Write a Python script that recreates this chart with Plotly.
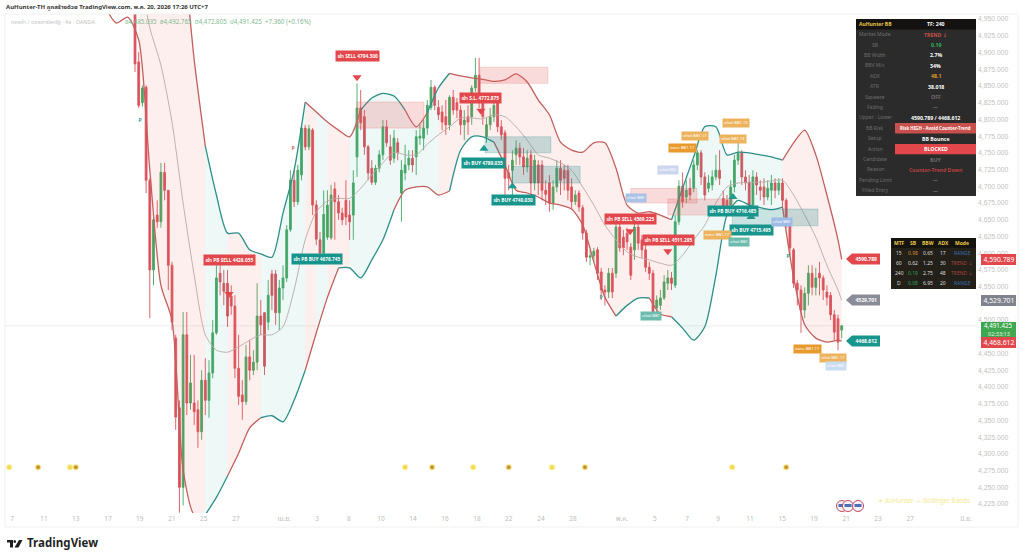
import plotly.graph_objects as go

W, H = 1024, 559
THAI = "Noto Sans Thai, Noto Sans, DejaVu Sans, Liberation Sans"

# candles, XAUUSD 4h
open_ = [4964,4886,4825,4848,4709,4575,4657,4647,4721,4694,4582,4473,4369,4250,4478,4376,4376,4366,4333,4410,
    4380,4421,4481,4570,4555,4555,4536,4521,4428,4388,4378,4445,4425,4437,4506,4511,4497,4569,4569,4511,
    4548,4563,4635,4709,4677,4717,4787,4759,4784,4672,4620,4600,4624,4623,4696,4677,4660,4679,4657,4657,
    4744,4817,4804,4759,4727,4706,4727,4747,4789,4759,4742,4765,4690,4720,4732,4742,4744,4772,4772,4787,
    4818,4848,4818,4811,4804,4792,4833,4825,4814,4792,4804,4804,4847,4866,4825,4774,4792,4804,4825,4789,
    4780,4720,4724,4747,4757,4744,4729,4747,4705,4732,4732,
    4694,4705,4675,4699,4727,4724,4724,4699,4677,4690,4668,4630,4594,4596,4605,4572,4545,4542,4570,4570,
    4639,4624,4630,4609,4605,4639,4620,4605,4579,4570,4518,4522,4533,4555,4563,4552,4647,4700,4684,4697,
    4697,4732,4750,4714,4697,4702,4714,4724,4682,4679,4672,4699,4739,4750,4714,4706,4672,4714,4699,4699,
    4684,4694,4705,4694,4705,4679,4645,4605,4555,4545,4515,4540,4570,4549,4570,4563,4542,4537,4508,4502,4485.035]
high = [4971,4901,4851,4851,4712,4657,4679,4735,4735,4694,4587,4478,4380,4512,4512,4448,4448,4380,4425,4443,
    4440,4500,4582,4590,4575,4575,4552,4537,4478,4410,4463,4470,4455,4555,4530,4512,4560,4575,4575,4560,
    4582,4642,4724,4724,4732,4792,4792,4792,4787,4679,4632,4694,4694,4702,4706,4687,4668,4709,4679,4724,
    4854,4844,4814,4762,4739,4732,4754,4799,4799,4777,4784,4772,4739,4762,4754,4754,4784,4792,4799,4829,
    4859,4851,4829,4821,4829,4836,4844,4832,4821,4814,4821,4851,4892,4892,4829,4802,4817,4829,4829,4799,
    4784,4732,4754,4769,4765,4757,4754,4754,4747,4739,4739,
    4709,4717,4709,4739,4739,4732,4732,4712,4694,4694,4672,4635,4605,4608,4609,4578,4552,4578,4578,4647,
    4647,4635,4638,4615,4647,4647,4627,4615,4587,4575,4537,4545,4567,4575,4572,4657,4709,4721,4709,4712,
    4739,4754,4754,4721,4717,4724,4747,4754,4694,4687,4709,4747,4769,4754,4724,4717,4724,4721,4709,4712,
    4709,4717,4712,4712,4712,4682,4650,4608,4560,4552,4549,4582,4582,4578,4587,4567,4552,4542,4515,4508,4492.765]
low = [4871,4817,4819,4690,4503,4552,4638,4638,4679,4545,4485,4336,4212,4223,4358,4366,4343,4309,4321,4358,
    4354,4413,4478,4537,4522,4490,4508,4413,4373,4351,4373,4410,4418,4425,4478,4418,4485,4515,4493,4485,
    4530,4557,4632,4669,4672,4709,4754,4754,4657,4612,4587,4593,4620,4620,4620,4650,4642,4642,4620,4620,
    4714,4784,4747,4709,4702,4702,4721,4739,4759,4732,4735,4739,4647,4709,4724,4721,4717,4762,4754,4777,
    4814,4814,4799,4784,4777,4784,4807,4802,4777,4769,4777,4792,4841,4817,4792,4765,4784,4796,4781,4769,
    4687,4694,4687,4732,4732,4717,4721,4687,4694,4687,4679,
    4672,4662,4665,4691,4687,4694,4679,4665,4672,4662,4620,4587,4582,4587,4560,4530,4522,4533,4533,4563,
    4602,4597,4605,4560,4590,4605,4593,4572,4560,4503,4508,4515,4530,4545,4545,4548,4642,4668,4675,4679,
    4691,4724,4702,4679,4691,4694,4709,4702,4657,4657,4665,4691,4732,4702,4694,4662,4668,4687,4679,4672,
    4679,4672,4682,4687,4668,4638,4597,4548,4522,4481,4503,4522,4537,4537,4537,4530,4522,4500,4470,4455,4472.805]
close = [4883,4821,4847,4709,4575,4650,4647,4721,4694,4582,4497,4355,4250,4478,4376,4406,4363,4333,4410,4380,
    4421,4481,4563,4557,4543,4506,4521,4428,4386,4378,4445,4425,4437,4506,4493,4431,4537,4537,4511,4548,
    4563,4635,4709,4677,4724,4787,4759,4786,4672,4621,4600,4658,4672,4687,4677,4660,4650,4654,4647,4705,
    4817,4795,4759,4720,4706,4727,4747,4789,4765,4739,4772,4750,4724,4732,4742,4732,4774,4775,4787,4821,
    4848,4821,4807,4796,4792,4833,4814,4814,4792,4799,4796,4847,4866,4825,4804,4792,4804,4821,4789,4777,
    4712,4712,4739,4757,4744,4729,4742,4705,4739,4705,4694,
    4688,4675,4699,4727,4709,4712,4694,4677,4687,4669,4630,4594,4596,4603,4570,4545,4542,4570,4542,4639,
    4608,4608,4617,4567,4639,4615,4605,4579,4570,4511,4530,4533,4557,4563,4555,4647,4700,4677,4694,4687,
    4732,4750,4714,4687,4705,4714,4724,4712,4669,4668,4699,4739,4750,4714,4705,4672,4714,4702,4694,4684,
    4697,4705,4694,4705,4679,4645,4608,4555,4545,4515,4540,4570,4549,4563,4563,4545,4534,4508,4482,4467,4491.425]

# bollinger bands, read every 3 bars
band_bars = [-8,-5,-2,1,4,7,10,13,16,19,22,25,28,31,34,37,40,43,46,49,52,55,58,61,64,67,70,73,76,79,82,85,88,91,
    94,97,100,103,106,109,112,115,118,121,124,127,130,133,136,139,142,145,148,151,154,157,160,163,166,169,172,175,
    178,181,184,187,190,191]
upper = [5248,5248,5240,5233,5218,5203,5158,5053,4889,4760,4687,4630,4630,4605,4599,4594,4660,4724,4826,4811,
    4796,4784,4774,4814,4832,4839,4835,4814,4789,4810,4847,4869,4865,4862,4860,4857,4859,4868,4856,4829,
    4807,4766,4754,4751,4765,4765,4727,4672,4660,4662,4657,4650,4697,4744,4789,4789,4747,4751,4750,4747,
    4744,4739,4765,4784,4747,4687,4620,4590.789]
middle = [5120,5095,5060,5020,4937,4881,4796,4675,4567,4478,4455,4452,4460,4470,4478,4478,4490,4545,4620,4662,
    4678,4682,4682,4697,4717,4735,4751,4747,4747,4763,4777,4789,4802,4802,4801,4807,4804,4789,4769,4747,
    4742,4735,4724,4699,4672,4642,4620,4602,4594,4590,4585,4582,4597,4620,4642,4675,4699,4705,4706,4706,
    4708,4709,4687,4657,4624,4582,4545,4529.701]
lower = [4967,4944,4953,4919,4724,4552,4500,4276,4209,4209,4235,4267,4301,4339,4354,4357,4348,4380,4425,4481,
    4534,4578,4578,4563,4590,4620,4665,4694,4699,4699,4687,4693,4754,4774,4774,4766,4732,4694,4690,4684,
    4675,4672,4666,4642,4587,4534,4506,4522,4533,4533,4509,4505,4488,4470,4490,4567,4657,4679,4672,4668,
    4665,4669,4564,4493,4473,4467,4470,4468.612]

# which side the bands were on, (first bar, last bar, state)
fill_runs = [(1,19,"down"),(19,25,"up"),(25,34,"down"),(34,46,"up"),(46,49,"down"),(49,52,"up"),(52,58,"down"),
    (58,82,"up"),(82,145,"down"),(145,175,"up"),(175,191,"down")]
upper_runs = [(-8,19,"down"),(19,46,"up"),(46,61,"down"),(61,73,"up"),(73,79,"down"),(79,85,"up"),(85,145,"down"),
    (145,175,"up"),(175,191,"down")]
lower_runs = [(-8,19,"down"),(19,25,"up"),(25,34,"down"),(34,46,"up"),(46,55,"down"),(55,70,"up"),(70,85,"down"),
    (85,97,"up"),(97,130,"down"),(130,139,"up"),(139,145,"down"),(145,175,"up"),(175,191,"down")]

sell_bars = [25.4,60,93.5,133.8,144]
sell_prices = [4539,4863,4813,4633,4603]
buy_bars = [94.3,102,161.6,166.5]
buy_prices = [4756,4700,4684,4654]

dot_price = 4280
dots_yellow = [-34,-17.6,73,91.4,112.7,161.4]
dots_orange = [-26.2,-16,80.3,101,121.6,176]

tick_bars = [-33.2,-24.6,-16,-7.3,1.3,10,18.6,27.3,40.3,49.2,57.8,66.5,75.1,83.8,92.4,101,109.7,118.4,131.6,140.5,
    149.2,157.6,166.2,174.9,183.5,192.2,200.8,209.5,224.6]
tick_text = ["7","11","13","17","19","21","25","27","เม.ย.","3","8","10","14","16","18","22","24","28","พ.ค.","5",
    "7","9","11","15","19","21","23","27","มิ.ย."]
# 4,475 and 4,525 sit under the price tags
price_ticks = [4225,4250,4275,4300,4325,4350,4375,4400,4425,4450,4500,4550,4575,4600,4625,4650,4675,4700,4725,
    4750,4775,4800,4825,4850,4875,4900,4925,4950]

# (bar from, bar to, price top, price bottom, side)
zones = [(60,78.1,4826,4787,"sell"),(93.2,111.6,4878,4854,"sell"),(94.6,112.4,4774,4750,"buy"),(101.9,120.3,4730,4705,"buy"),
    (134,151.9,4697,4675,"sell"),(144,161.6,4681,4657,"sell"),(161.4,184.6,4666,4641,"buy")]

dash_names = ["AuHunter BB","Market Mode","SB","BB Width","BBV Mix","ADX","ATR","Squeeze","Fading","Upper · Lower","BB Risk",
    "Setup","Action","Candidate","Reason","Pending Limit","Filled Entry"]
dash_values = ["TF: 240","TREND ↓","0.19","2.7%","34%","48.1","38.018","OFF","—","4590.789 / 4468.612",
    "Risk HIGH - Avoid Counter-Trend","BB Bounce","BLOCKED","BUY","Counter-Trend Down","—","—"]
dash_colors = ["#ffffff","#c8504c","#2fb35a","#ffffff","#ffffff","#e39a2d","#ffffff","#6e6e6e","#6e6e6e","#ffffff","#ffffff",
    "#ffffff","#ffffff","#6e6e6e","#b5403f","#6e6e6e","#6e6e6e"]

mtf_rows = [["MTF","SB","BBW","ADX","Mode"],["15","0.98","0.65","17","RANGE"],["60","0.62","1.25","30","TREND ↓"],
    ["240","0.19","2.75","48","TREND ↓"],["D","0.08","6.95","20","RANGE"]]
mtf_colors = [["#e8c84a"]*5,["#dddddd","#d98a32","#dddddd","#dddddd","#3a6fb0"],["#dddddd","#dddddd","#dddddd","#dddddd","#a8403f"],
    ["#dddddd","#2fa355","#dddddd","#dddddd","#a8403f"],["#dddddd","#2fa355","#dddddd","#dddddd","#3a6fb0"]]


def px(x):
    return x / W


def py(y):
    return 1 - y / H


def bar_slice(a, b):
    return [i for i, v in enumerate(band_bars) if a <= v <= b]


assert len(open_) == len(high) == len(low) == len(close), (len(open_), len(high), len(low), len(close))
assert len(band_bars) == len(upper) == len(middle) == len(lower), (len(band_bars), len(upper), len(middle), len(lower))

RED_LINE = "#c2605e"
TEAL_LINE = "#2e8f89"
SMOOTH = dict(shape="spline", smoothing=0.7)

fig = go.Figure()

for a, b, state in fill_runs:
    idx = bar_slice(a, b)
    xs = [band_bars[i] for i in idx]
    fig.add_trace(go.Scatter(x=xs, y=[upper[i] for i in idx], mode="lines", line=dict(width=0, **SMOOTH), hoverinfo="skip"))
    fig.add_trace(go.Scatter(x=xs, y=[lower[i] for i in idx], mode="lines", line=dict(width=0, **SMOOTH), fill="tonexty",
        fillcolor="rgba(240,110,100,0.11)" if state == "down" else "rgba(60,175,165,0.09)", hoverinfo="skip"))

fig.add_trace(go.Scatter(x=band_bars, y=middle, mode="lines", line=dict(color="#b9a9a6", width=0.9, **SMOOTH), hoverinfo="skip"))

for runs, series in [(upper_runs, upper), (lower_runs, lower)]:
    for a, b, state in runs:
        idx = bar_slice(a, b)
        fig.add_trace(go.Scatter(x=[band_bars[i] for i in idx], y=[series[i] for i in idx], mode="lines",
            line=dict(color=RED_LINE if state == "down" else TEAL_LINE, width=1.3, **SMOOTH), hoverinfo="skip"))

fig.add_trace(go.Candlestick(x=list(range(len(open_))), open=open_, high=high, low=low, close=close, whiskerwidth=0,
    increasing=dict(line=dict(color="#46a561", width=0.9), fillcolor="#46a561"),
    decreasing=dict(line=dict(color="#d9515a", width=0.9), fillcolor="#d9515a")))

fig.add_trace(go.Scatter(x=dots_yellow, y=[dot_price]*len(dots_yellow), mode="markers",
    marker=dict(color="#f3dc4e", size=4.5, line=dict(color="rgba(243,220,78,0.35)", width=2))))
fig.add_trace(go.Scatter(x=dots_orange, y=[dot_price]*len(dots_orange), mode="markers",
    marker=dict(color="#bf8a2e", size=4.5, line=dict(color="rgba(243,220,78,0.45)", width=2))))
fig.add_trace(go.Scatter(x=sell_bars, y=sell_prices, mode="markers", marker=dict(symbol="triangle-down", color="#e2474c", size=8)))
fig.add_trace(go.Scatter(x=buy_bars, y=buy_prices, mode="markers", marker=dict(symbol="triangle-up", color="#1f9c90", size=8)))

shapes = []
for x0, x1, top, bottom, side in zones:
    shapes.append(dict(type="rect", xref="x", yref="y", x0=x0, x1=x1, y0=bottom, y1=top, layer="above",
        fillcolor="rgba(230,90,90,0.22)" if side == "sell" else "rgba(40,140,140,0.25)",
        line=dict(color="rgba(230,110,110,0.35)" if side == "sell" else "rgba(40,140,140,0.35)", width=0.7)))

# current price line and frame
shapes.append(dict(type="line", xref="x", yref="y", x0=-35.1, x1=227.6, y0=close[-1], y1=close[-1], line=dict(color="#eeeeee", width=1), layer="below"))
shapes.append(dict(type="rect", xref="paper", yref="paper", x0=px(5), x1=px(1018), y0=py(527), y1=py(14), line=dict(color="#f0f0f0", width=1)))

annots = []


def note(x, y, text, color="#ffffff", size=5.5, bold=False, anchor="center", bg=None, pad=1.5):
    annots.append(dict(xref="paper", yref="paper", x=px(x), y=py(y), text=f"<b>{text}</b>" if bold else text, showarrow=False,
        xanchor=anchor, yanchor="middle", font=dict(family=THAI, size=size, color=color), bgcolor=bg, borderpad=pad))


def box(x0, y0, x1, y1, color):
    shapes.append(dict(type="rect", xref="paper", yref="paper", x0=px(x0), x1=px(x1), y0=py(y1), y1=py(y0),
        fillcolor=color, line=dict(width=0), layer="above"))


# signal labels
for x, y, text, col in [
    (229,260,"เข้า PB SELL 4428.055","#e2474c"),(317,259,"เข้า PB BUY 4676.745","#17958c"),
    (357,56,"เข้า SELL 4794.300","#e2474c"),(480,98,"เข้า S.L. 4772.875","#e2474c"),
    (483,163,"เข้า BUY 4789.035","#17958c"),(513,200,"เข้า BUY 4740.030","#17958c"),
    (630,219,"เข้า PB SELL 4569.225","#e2474c"),(668,240,"เข้า PB SELL 4511.295","#e2474c"),
    (733,211,"เข้า PB BUY 4716.485","#17958c"),(751,230,"เข้า BUY 4715.495","#17958c")]:
    note(x, y, text, size=4.8, bold=True, bg=col)

for x, y, text, col in [
    (695,136,"แท็งค์ BB1.17","#ecb35c"),(736,123,"แท็งค์ BB1.13","#ecb35c"),(733,139,"แท็งค์ BB1.13","#ecb35c"),
    (682,148,"จังหวะ BB1.17","#e89a2c"),(717,235,"จังหวะ BB1.17","#ecb35c"),(739,242,"แท็งค์ BB1","#6cbcae"),
    (651,316,"แท็งค์ BB1","#6cbcae"),(636,198,"แท็งค์ BB1","#a9c2e6"),(668,170,"แท็งค์ BB1","#cbd6ee"),
    (782,222,"แท็งค์ BB1","#9dbbe6"),(807,349,"จังหวะ BB1.17","#e89a2c"),(833,358,"แท็งค์ BB1.17","#ecb35c"),
    (836,366,"แท็งค์ BB1","#c9ddf2")]:
    note(x, y, text, size=4, bg=col, pad=1)

for x, y, text, col in [(140,120,"P","#2e9f93"),(293,148,"P","#d06070"),(601,297,"P","#2e9f93"),(788,256,"P","#2e9f93")]:
    note(x, y, text, color=col, size=5, bold=True)

# tags beside the last bar
for y, text, col in [(259,"4590.789","#e2474c"),(300,"4529.701","#8a8d97"),(341,"4468.612","#17958c")]:
    box(852, y-5.5, 880, y+5.5, col)
    shapes.append(dict(type="path", xref="paper", yref="paper", fillcolor=col, line=dict(width=0), layer="above",
        path=f"M {px(852)} {py(y-5.5)} L {px(852)} {py(y+5.5)} L {px(846)} {py(y)} Z"))
    note(866, y, text, size=5, bold=True)

# axis tags
box(981, 254, 1016, 265, "#e2474c")
note(998.5, 259.5, "4,590.789", size=6.8)
box(981, 295, 1016, 306, "#80838d")
note(998.5, 300.5, "4,529.701", size=6.8)
box(981, 322, 1016, 337, "#3fa74f")
note(998.5, 326, "4,491.425", size=6.2, pad=0)
note(998.5, 333.5, "02:33:13", size=5.5, color="#e6f3e6", pad=0)
box(981, 337, 1016, 348, "#e2474c")
note(998.5, 342.5, "4,468.612", size=6.8)

# dashboard
top, row_h = 19, 10.41
box(856, top, 976, top + 17*row_h, "#2b2b2b")
box(856, top, 976, top + row_h, "#141210")
box(895, top + 10*row_h, 976, top + 11*row_h, "#c8504c")
box(895, top + 12*row_h, 976, top + 13*row_h, "#e2474c")
for i, name in enumerate(dash_names):
    y = top + (i + 0.5)*row_h
    note(875, y, name, color="#e8c84a" if i == 0 else "#6e6e6e", size=5, bold=i == 0, pad=0)
    note(935.5, y, dash_values[i], color=dash_colors[i], size=4.4 if i == 10 else 5.2, bold=True, pad=0)

# small mtf table
mtf_x = [899, 913, 928, 943, 962]
box(891, 238, 976, 289, "#222019")
box(891, 238, 976, 248, "#15130e")
for r, row in enumerate(mtf_rows):
    for c, val in enumerate(row):
        note(mtf_x[c], 243 + r*10.2, val, color=mtf_colors[r][c], size=5, bold=r == 0, pad=0)

# header and footer
note(5, 8, "AuHunter-TH ถูกสร้างด้วย TradingView.com, พ.ค. 20, 2026 17:26 UTC+7", color="#333333", size=6, bold=True, anchor="left", pad=0)
note(10, 22, "ทองคำ / ดอลลาร์สหรัฐ · 4ช · OANDA", color="#c4c4c4", size=5.5, anchor="left", pad=0)
note(124, 22, "อ4,485.035  ส4,492.765  ต4,472.805  ป4,491.425  +7.360 (+0.16%)", color="#7fb98f", size=6.2, anchor="left", pad=0)
note(26, 543, "TradingView", color="#1f1f1f", size=11.5, bold=True, anchor="left", pad=0)
box(7, 540, 13, 542.5, "#1f1f1f")
box(10, 540, 13, 547.5, "#1f1f1f")
shapes.append(dict(type="circle", xref="paper", yref="paper", x0=px(13.5), x1=px(16), y0=py(543), y1=py(540), fillcolor="#1f1f1f", line=dict(width=0)))
shapes.append(dict(type="path", xref="paper", yref="paper", fillcolor="#1f1f1f", line=dict(width=0),
    path=f"M {px(19)} {py(540)} L {px(22.5)} {py(540)} L {px(18.5)} {py(547.5)} L {px(14.5)} {py(547.5)} Z"))

# watermark and flags
note(877, 501, "✦ AuHunter — Bollinger Bands", color="#f5e98c", size=6.3, anchor="left", pad=0)
for cx in [842, 848, 858]:
    shapes.append(dict(type="circle", xref="paper", yref="paper", x0=px(cx-5.5), x1=px(cx+5.5), y0=py(511.5), y1=py(500.5),
        fillcolor="#f4f4fa", line=dict(color="#c74a5c", width=1), layer="above"))
    shapes.append(dict(type="rect", xref="paper", yref="paper", x0=px(cx-3.5), x1=px(cx+3.5), y0=py(507), y1=py(504),
        fillcolor="#4c6fb5", line=dict(width=0), layer="above"))

fig.update_layout(
    width=W, height=H, autosize=False, showlegend=False, margin=dict(l=0, r=0, t=0, b=0),
    paper_bgcolor="white", plot_bgcolor="white", shapes=shapes, annotations=annots, hovermode=False,
    xaxis=dict(domain=[px(5), px(977)], range=[-35.14, 227.57], rangeslider=dict(visible=False), tickmode="array",
        tickvals=tick_bars, ticktext=tick_text, showgrid=False, zeroline=False, ticks="", ticklen=0,
        tickfont=dict(family=THAI, size=6.5, color="#bcbcbc")),
    yaxis=dict(domain=[py(513), py(14)], range=[4211.6, 4957.6], side="right", tickmode="array", tickvals=price_ticks,
        tickformat=",.3f", showgrid=False, zeroline=False, ticks="", tickfont=dict(family="Liberation Sans, Arial", size=6.8, color="#c2c2c2")),
)

fig.write_html("out.html", config=dict(displayModeBar=False), post_script="document.body.style.margin='0';")
